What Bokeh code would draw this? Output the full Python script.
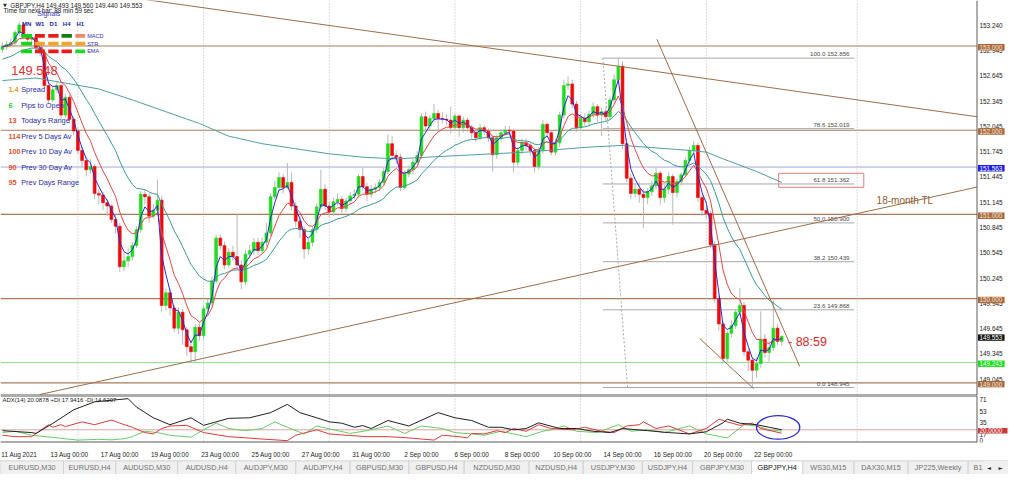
from bokeh.plotting import figure
from bokeh.models import (Range1d, LinearAxis, FixedTicker, Span, ColumnDataSource)
from bokeh.layouts import column
from bokeh.embed import file_html
from bokeh.resources import INLINE
from bokeh.core.properties import value

# ---------------- data (GBPJPY H4) ----------------
first_open = 152.96
closes = [
    152.99, 153.02, 153.04, 153.16, 153.25, 153.12, 153.08, 153.10, 152.98, 152.92,
    152.53, 152.36, 152.48, 152.53, 152.18, 152.39, 152.13, 151.99, 151.76, 151.64,
    151.53, 151.57, 151.25, 151.23, 151.14, 151.10, 150.94, 150.86, 150.38, 150.45,
    150.50, 150.63, 150.82, 151.24, 151.21, 150.98, 151.05, 151.17, 149.92, 150.07,
    149.89, 149.65, 149.84, 149.63, 149.43, 149.37, 149.66, 149.56, 149.88, 149.95,
    150.21, 150.72, 150.63, 150.40, 150.55, 150.50, 150.40, 150.20, 150.53, 150.57,
    150.67, 150.57, 150.67, 150.78, 151.21, 151.32, 151.44, 151.32, 151.38, 151.10,
    150.92, 150.82, 150.59, 150.67, 150.82, 151.09, 151.30, 151.10, 151.03, 151.15,
    151.18, 151.07, 151.16, 151.22, 151.24, 151.45, 151.33, 151.24, 151.30, 151.32,
    151.38, 151.51, 151.84, 151.70, 151.68, 151.32, 151.48, 151.53, 151.62, 151.70,
    152.16, 152.05, 152.14, 152.20, 152.14, 152.13, 152.12, 152.03, 152.17, 152.03,
    152.12, 152.03, 151.97, 151.91, 152.03, 151.99, 151.91, 151.71, 151.91, 151.97,
    152.00, 151.99, 151.62, 151.76, 151.85, 151.82, 151.76, 151.57, 151.76, 152.07,
    151.97, 151.74, 151.85, 152.18, 152.53, 152.55, 152.31, 152.03, 152.14, 152.10,
    152.19, 152.28, 152.18, 152.22, 152.16, 152.36, 152.60, 152.76, 151.84, 151.43,
    151.25, 151.30, 151.24, 151.20, 151.27, 151.34, 151.49, 151.20, 151.30, 151.45,
    151.26, 151.39, 151.47, 151.64, 151.76, 151.82, 151.20, 151.05, 151.01, 150.64,
    150.00, 149.70, 149.29, 149.59, 149.68, 149.84, 149.92, 149.37, 149.27, 149.15,
    149.23, 149.52, 149.36, 149.42, 149.65, 149.493, 149.553]
highs = [
    153.04, 153.06, 153.09, 153.19, 153.29, 153.28, 153.15, 153.14, 153.13, 153.01,
    152.95, 152.56, 152.52, 152.58, 152.56, 152.43, 152.42, 152.16, 152.02, 151.80,
    151.68, 151.66, 151.60, 151.30, 151.27, 151.18, 151.12, 151.00, 150.90, 150.55,
    150.60, 150.68, 150.86, 151.28, 151.30, 151.25, 151.12, 151.41, 151.22, 150.12,
    150.12, 149.93, 149.90, 149.88, 149.66, 149.50, 149.70, 149.72, 149.92, 150.00,
    150.26, 150.76, 150.76, 150.68, 150.60, 150.63, 151.01, 150.45, 150.58, 150.64,
    150.72, 150.72, 150.73, 150.90, 151.25, 151.40, 151.50, 151.48, 151.61, 151.50,
    151.15, 150.98, 150.85, 150.72, 150.86, 151.13, 151.53, 151.36, 151.15, 151.20,
    151.25, 151.22, 151.20, 151.27, 151.30, 151.48, 151.55, 151.38, 151.35, 151.37,
    151.42, 151.55, 151.95, 151.93, 151.76, 151.72, 151.52, 151.58, 151.66, 151.75,
    152.20, 152.22, 152.18, 152.31, 152.24, 152.22, 152.19, 152.28, 152.20, 152.19,
    152.16, 152.15, 152.06, 152.00, 152.08, 152.06, 152.02, 151.94, 151.95, 152.01,
    152.05, 152.05, 152.02, 151.80, 151.90, 151.90, 151.86, 151.79, 151.80, 152.12,
    152.10, 152.00, 151.90, 152.22, 152.60, 152.64, 152.60, 152.35, 152.19, 152.20,
    152.23, 152.33, 152.31, 152.27, 152.27, 152.40, 152.66, 152.856, 152.82, 151.90,
    151.48, 151.36, 151.38, 151.30, 151.31, 151.40, 151.55, 151.52, 151.35, 151.50,
    151.48, 151.43, 151.50, 151.68, 151.80, 151.87, 151.85, 151.24, 151.10, 151.04,
    150.68, 150.04, 149.73, 149.62, 149.74, 149.88, 150.13, 149.96, 149.40, 149.30,
    149.30, 149.85, 149.58, 149.50, 149.98, 149.70, 149.560]
lows = [
    152.92, 152.95, 152.98, 153.00, 153.12, 153.08, 153.03, 153.02, 152.94, 152.88,
    152.49, 152.31, 152.33, 152.44, 152.13, 152.15, 152.08, 151.94, 151.72, 151.56,
    151.45, 151.48, 151.18, 151.12, 151.05, 150.98, 150.90, 150.77, 150.32, 150.33,
    150.38, 150.45, 150.60, 150.78, 151.12, 150.90, 150.95, 151.02, 149.85, 149.86,
    149.80, 149.60, 149.58, 149.45, 149.32, 149.24, 149.25, 149.50, 149.52, 149.82,
    149.92, 150.18, 150.58, 150.35, 150.37, 150.45, 150.36, 150.11, 150.16, 150.48,
    150.52, 150.52, 150.53, 150.62, 150.74, 151.18, 151.28, 151.25, 151.30, 151.05,
    150.85, 150.72, 150.47, 150.52, 150.62, 150.78, 151.05, 151.05, 150.97, 150.98,
    151.10, 151.02, 151.03, 151.12, 151.18, 151.20, 151.28, 151.16, 151.20, 151.25,
    151.28, 151.34, 151.48, 151.65, 151.60, 151.28, 151.30, 151.44, 151.48, 151.58,
    151.66, 151.98, 152.00, 152.10, 151.98, 152.08, 152.06, 151.96, 151.99, 151.92,
    151.97, 151.98, 151.90, 151.86, 151.88, 151.94, 151.86, 151.51, 151.66, 151.86,
    151.93, 151.94, 151.50, 151.57, 151.72, 151.76, 151.70, 151.50, 151.53, 151.72,
    151.92, 151.70, 151.70, 151.80, 152.14, 152.48, 152.26, 151.98, 151.99, 152.05,
    152.06, 152.15, 152.10, 151.93, 152.10, 152.12, 152.32, 152.55, 151.78, 151.38,
    151.18, 151.20, 151.14, 150.84, 151.12, 151.22, 151.30, 151.12, 151.14, 151.24,
    150.88, 151.20, 151.34, 151.44, 151.60, 151.72, 151.15, 150.98, 150.95, 150.60,
    149.95, 149.62, 149.24, 149.25, 149.54, 149.64, 149.80, 149.32, 149.14, 148.945,
    149.06, 149.18, 149.30, 149.25, 149.38, 149.45, 149.440]

ema_fast_period = 3
ema_mid_period = 8
ema_slow_period = 21
ema_slow_seed = 152.83

ma_long_bar = [0, 8, 15, 23, 31, 39, 47, 54, 62, 70, 78, 86, 94, 109, 125, 140,
               148, 156, 164, 168, 172, 180, 186]
ma_long_val = [152.59, 152.62, 152.56, 152.49, 152.36, 152.22, 152.08, 151.93,
               151.84, 151.78, 151.72, 151.68, 151.66, 151.70, 151.74, 151.80,
               151.82, 151.79, 151.76, 151.74, 151.66, 151.51, 151.38]

adx_bar = [0, 7, 8, 12, 17, 22, 30, 32, 36, 40, 45, 48, 54, 59, 64, 68, 71, 75, 78, 81,
           84, 86, 88, 92, 97, 104, 108, 112, 116, 119, 122, 125, 128, 133, 137, 141,
           145, 148, 154, 159, 164, 168, 172, 173, 176, 180, 183, 186]
adx_val = [18.6, 15.6, 14.3, 30.0, 51.5, 64.0, 69.0, 55.7, 38.9, 28.0, 38.9, 27.0,
           38.0, 38.9, 47.0, 60.0, 47.0, 38.9, 32.5, 30.4, 24.0, 26.6, 22.0, 34.6,
           26.0, 47.0, 38.9, 34.6, 24.0, 24.0, 20.0, 22.0, 31.0, 22.0, 22.0, 17.7,
           15.6, 22.0, 18.6, 15.6, 13.5, 16.9, 31.0, 36.7, 30.4, 28.0, 24.0, 20.09]
pdi_bar = [0, 3, 7, 15, 18, 23, 26, 29, 31, 34, 37, 40, 45, 48, 51, 54, 58, 62, 65, 68,
           72, 75, 79, 83, 87, 92, 96, 100, 105, 108, 112, 115, 119, 122, 125, 129,
           131, 134, 137, 142, 147, 150, 154, 158, 164, 168, 173, 177, 180, 183, 186]
pdi_val = [15.6, 17.7, 11.4, 5.9, 3.8, 5.0, 4.2, 5.9, 9.2, 17.7, 15.6, 11.4, 8.4, 20.0,
           30.4, 22.0, 18.6, 22.0, 32.5, 24.0, 13.5, 26.0, 20.0, 14.3, 18.6, 26.0,
           14.3, 26.0, 22.0, 15.6, 13.5, 11.4, 17.7, 13.5, 9.2, 17.7, 20.0, 26.0,
           17.7, 15.6, 28.0, 17.7, 20.0, 15.6, 26.0, 13.5, 7.2, 28.0, 26.0, 20.0, 17.94]
mdi_bar = [0, 3, 7, 11, 12, 14, 15, 19, 22, 26, 28, 31, 34, 36, 38, 40, 44, 48, 54, 61,
           68, 70, 75, 78, 82, 87, 92, 97, 103, 105, 109, 111, 112, 115, 118, 120, 122,
           125, 128, 131, 136, 139, 143, 146, 149, 152, 153, 156, 159, 164, 168, 171,
           173, 176, 179, 181, 186]
mdi_val = [11.4, 9.2, 9.2, 28.0, 24.0, 28.0, 25.0, 32.5, 28.0, 35.4, 30.4, 24.0, 15.6,
           13.5, 22.0, 26.0, 27.0, 15.6, 9.2, 5.9, 2.9, 11.4, 20.0, 13.5, 11.4, 9.2,
           9.2, 7.2, 3.8, 11.4, 9.2, 7.2, 14.3, 13.5, 18.6, 15.6, 22.0, 17.7, 28.0,
           22.0, 20.0, 24.0, 17.7, 15.6, 26.0, 28.0, 32.5, 22.0, 26.0, 13.5, 22.0,
           36.7, 32.5, 27.0, 30.4, 22.0, 14.62]
adx_level = 20.0
adx_ticks = [71, 53, 35, 17, 0]
adx_title = "ADX(14) 20.0878 +DI:17.9416 -DI:14.6207"

date_ticks = [0, 12, 24, 36, 48, 60, 72, 84, 96, 108, 120, 132, 144, 156, 168, 180]
date_labels = ["11 Aug 2021", "13 Aug 00:00", "17 Aug 00:00", "19 Aug 00:00",
               "23 Aug 00:00", "25 Aug 00:00", "27 Aug 00:00", "31 Aug 00:00",
               "2 Sep 00:00", "6 Sep 00:00", "8 Sep 00:00", "10 Sep 00:00",
               "14 Sep 00:00", "16 Sep 00:00", "20 Sep 00:00", "22 Sep 00:00"]

price_ticks = [153.240, 152.945, 152.645, 152.345, 152.045, 151.745, 151.445,
               151.145, 150.845, 150.545, 150.245, 149.945, 149.645, 149.345, 149.045]
round_levels = [153.0, 152.0, 151.0, 150.0, 149.0]
alert_blue = 151.563
alert_green = 149.243
last_price = 149.553

fib_pct = [100.0, 78.6, 61.8, 50.0, 38.2, 23.6, 0.0]
fib_price = [152.856, 152.019, 151.362, 150.900, 150.439, 149.868, 148.945]
fib_start_bar = 143.3
fib_end_bar = 203.3
fib_diag_bar = [143.3, 149.2]
fib_diag_price = [152.856, 148.945]

tl_bar0 = [30.0, 8.9, 156.2, 166.4]
tl_price0 = [153.58, 148.862, 153.08, 149.529]
tl_bar1 = [232.6, 232.6, 190.3, 179.3]
tl_price1 = [152.16, 151.325, 149.195, 148.931]

grid_bars = [18, 48, 78, 108, 138, 168, 204]

header = "GBPJPY,H4  149.493 149.560 149.440 149.553"
timer_text = "Time for next bar: 88 min 59 sec"
bid_text = "149.548"
info_values = ["1.4", "6", "13", "114", "100", "90", "95"]
info_names = ["Spread", "Pips to Open", "Today's Range", "Prev 5 Days Av",
              "Prev 10 Day Av", "Prev 30 Day Av", "Prev Days Range"]
info_colors = ["#e39a2a", "#2ccc2c", "#e2542c", "#e2542c", "#e2542c", "#e2542c", "#e2542c"]
signal_tfs = ["MN", "W1", "D1", "H4", "H1"]
signal_rows = ["MACD", "STR", "EMA"]
signal_colors = [["#18d418", "#e81c1c", "#e81c1c", "#147a14", "#f2866e"],
                 ["#18d418", "#f0a428", "#f0a428", "#f0a428", "#f0a428"],
                 ["#18d418", "#e81c1c", "#e81c1c", "#e81c1c", "#26d826"]]
tl_caption = "18-month TL"
countdown = "- 88:59"

tab_names = ["EURUSD,M30", "EURUSD,H4", "AUDUSD,M30", "AUDUSD,H4", "AUDJPY,M30",
             "AUDJPY,H4", "GBPUSD,M30", "GBPUSD,H4", "NZDUSD,M30", "NZDUSD,H4",
             "USDJPY,M30", "USDJPY,H4", "GBPJPY,M30", "GBPJPY,H4", "WS30,M15",
             "DAX30,M15", "JP225,Weekly", "B1"]
active_tab = "GBPJPY,H4"

# ---------------- layout helpers (reference-pixel -> data) ----------------
PX_PER_BAR = 4.256
def X(px):
    return (px - 2.0) / PX_PER_BAR
def P(py):
    return 153.0 - (py - 47.0) / 87.0
ADX_PX = 0.757
def A(py):
    return (464.0 - py) / ADX_PX

W = 1008
FONT = "Liberation Sans"
BULL, BEAR = "#1fdc1f", "#ee0a0a"
BROWN = "#a87a58"
BORDER = "#5a5a5a"

def ema(vals, period, seed):
    k = 2.0 / (period + 1)
    out, e = [], seed
    for v in vals:
        e = e + k * (v - e)
        out.append(e)
    return out

n = len(closes)
idx = list(range(n))
opens = [first_open] + closes[:-1]

def base_fig(height, y_range, bottom=0):
    f = figure(width=W, height=height, x_range=Range1d(X(0), X(1024)), y_range=y_range,
               output_backend="svg", toolbar_location=None, x_axis_location=None,
               y_axis_location=None, min_border_left=0, min_border_right=0,
               min_border_top=0, min_border_bottom=bottom)
    f.outline_line_color = None
    f.background_fill_color = "white"
    f.border_fill_color = "white"
    f.xgrid.visible = False
    f.ygrid.visible = False
    return f

# ---------------- main price panel ----------------
p = base_fig(395, Range1d(P(408), P(0)))

for b in grid_bars:
    p.add_layout(Span(location=b, dimension="height", line_color="#b4b4b4",
                      line_dash="1 2", line_width=1, level="underlay"))
p.segment(x0=[X(0)] * 5, y0=round_levels, x1=[X(992)] * 5, y1=round_levels,
          line_color=BROWN, line_width=1.2, level="underlay")
p.segment(x0=[X(0)], y0=[alert_blue], x1=[X(992)], y1=[alert_blue],
          line_color="#a4aad6", line_width=1, level="underlay")
p.segment(x0=[X(0)], y0=[alert_green], x1=[X(992)], y1=[alert_green],
          line_color="#8ce28c", line_width=1, level="underlay")

# fibonacci
p.segment(x0=[fib_start_bar] * len(fib_price), y0=fib_price,
          x1=[fib_end_bar] * len(fib_price), y1=fib_price,
          line_color="#a8a8a8", line_width=1)
p.line(fib_diag_bar, fib_diag_price, line_color="#a8a8a8", line_dash="2 2", line_width=1)
p.text(x=[X(866)] * len(fib_price), y=[f + 0.9 / 87 for f in fib_price],
       text=[f"{a:.1f}   {b:.3f}" for a, b in zip(fib_pct, fib_price)],
       text_font=value(FONT), text_font_size="6.2px", text_color="#4a4a4a",
       text_align="right", text_baseline="bottom")
p.quad(left=[X(790.5)], right=[X(877)], top=[P(178.5)], bottom=[P(193)],
       fill_color=None, line_color="#e57b7b", line_width=1)

# candles
src = ColumnDataSource(dict(
    x=idx, high=highs, low=lows,
    top=[max(o, c) for o, c in zip(opens, closes)],
    bottom=[min(o, c) for o, c in zip(opens, closes)],
    color=[BULL if c >= o else BEAR for o, c in zip(opens, closes)]))
p.segment(x0="x", y0="high", x1="x", y1="low", source=src,
          line_color="#b9b9b9", line_width=1)
p.vbar(x="x", width=0.68, top="top", bottom="bottom", source=src,
       fill_color="color", line_color="color", line_width=0.6)

# moving averages
p.line(ma_long_bar, ma_long_val, line_color="#4f9ea6", line_width=1)
p.line(idx, ema(closes, ema_slow_period, ema_slow_seed), line_color="#3a9999", line_width=1)
p.line(idx, ema(closes, ema_mid_period, closes[0]), line_color="#e04848", line_width=1)
p.line(idx, ema(closes, ema_fast_period, closes[0]), line_color="#2a2ad2", line_width=1)

# trendlines
p.segment(x0=tl_bar0, y0=tl_price0, x1=tl_bar1, y1=tl_price1,
          line_color="#9e6c4a", line_width=1)

# right price scale (separator, labels, marked-price boxes)
p.add_layout(Span(location=X(992), dimension="height", line_color=BORDER, line_width=1))
p.segment(x0=[X(0)], y0=[P(408)], x1=[X(992)], y1=[P(408)], line_color=BORDER, line_width=2)
p.text(x=[X(994.5)] * len(price_ticks), y=price_ticks,
       text=[f"{v:.3f}" for v in price_ticks], text_font=value(FONT),
       text_font_size="6.4px", text_color="#202020", text_baseline="middle")
boxes = [(153.0, "#a8683c", "#fbe9d8"), (152.0, "#a8683c", "#fbe9d8"),
         (151.0, "#a8683c", "#fbe9d8"), (150.0, "#a8683c", "#fbe9d8"),
         (149.0, "#a8683c", "#fbe9d8"), (alert_blue, "#1c1ce6", "white"),
         (last_price, "#111111", "white"), (alert_green, "#12e012", "white")]
bp = [b[0] for b in boxes]
p.quad(left=[X(993)] * len(bp), right=[X(1020)] * len(bp),
       top=[v + 2.0 / 87 for v in bp], bottom=[v - 4.6 / 87 for v in bp],
       fill_color=[b[1] for b in boxes], line_color=None)
p.text(x=[X(994.5)] * len(bp), y=[v - 1.3 / 87 for v in bp],
       text=[f"{v:.3f}" for v in bp], text_font=value(FONT), text_font_size="6.3px",
       text_color=[b[2] for b in boxes], text_baseline="middle")

# info panel (top-left)
p.text(x=[X(2.5)], y=[P(5)], text=["\u25bc"], text_font=value("DejaVu Sans"),
       text_font_size="5px", text_color="#303030", text_baseline="middle")
p.text(x=[X(10)], y=[P(5)], text=[header], text_font=value(FONT),
       text_font_size="6.3px", text_color="#202020", text_baseline="middle")
p.text(x=[X(3)], y=[P(10)], text=[timer_text], text_font=value(FONT),
       text_font_size="6.3px", text_color="#202020", text_baseline="middle")
p.text(x=[X(49)], y=[P(13.5)], text=["Signals"], text_font=value(FONT),
       text_font_size="7px", text_color="#3838b0", text_align="center",
       text_baseline="middle")
col_span = [(21, 32), (35, 45), (48.5, 59), (62, 72.5), (76, 86)]
row_span = [(34.5, 38.5), (42.5, 46.5), (50.5, 54.5)]
p.text(x=[X((a + b) / 2) for a, b in col_span], y=[P(24.5)] * 5, text=signal_tfs,
       text_font=value(FONT), text_font_size="6px", text_font_style="bold",
       text_color="#1e1e9e", text_align="center", text_baseline="middle")
ql, qr, qt, qb, qc = [], [], [], [], []
for r, (y0, y1) in enumerate(row_span):
    for c, (x0, x1) in enumerate(col_span):
        ql.append(X(x0)); qr.append(X(x1)); qt.append(P(y0)); qb.append(P(y1))
        qc.append(signal_colors[r][c])
p.quad(left=ql, right=qr, top=qt, bottom=qb, fill_color=qc, line_color=None)
p.text(x=[X(88)] * 3, y=[P((a + b) / 2) for a, b in row_span], text=signal_rows,
       text_font=value(FONT), text_font_size="5.6px", text_color="#3434b4",
       text_baseline="middle")
p.text(x=[X(11)], y=[P(72)], text=[bid_text], text_font=value(FONT),
       text_font_size="12.8px", text_color="#e23030", text_baseline="middle")
info_y = [92, 108, 124, 140, 156, 172, 188]
p.text(x=[X(8)] * 7, y=[P(v) for v in info_y], text=info_values,
       text_font=value(FONT), text_font_size="7.4px", text_font_style="bold",
       text_color=info_colors, text_baseline="middle")
p.text(x=[X(21)] * 7, y=[P(v) for v in info_y], text=info_names,
       text_font=value(FONT), text_font_size="7.4px", text_color="#2a2aa6",
       text_baseline="middle")

p.text(x=[X(890)], y=[P(207)], text=[tl_caption], text_font=value(FONT),
       text_font_size="10px", text_color="#8e5b32", text_baseline="middle")
p.text(x=[X(800)], y=[P(353)], text=[countdown], text_font=value(FONT),
       text_font_size="12.5px", text_color="#e02828", text_baseline="middle")

# ---------------- ADX panel ----------------
q = base_fig(65, Range1d(0, 56 / ADX_PX), bottom=11)
q.x_range = p.x_range
for b in grid_bars:
    q.add_layout(Span(location=b, dimension="height", line_color="#b4b4b4",
                      line_dash="1 2", line_width=1, level="underlay"))
q.segment(x0=[X(0)], y0=[adx_level], x1=[X(992)], y1=[adx_level],
          line_color="#e2a4a4", line_width=1, level="underlay")
q.line(pdi_bar, pdi_val, line_color="#66cc66", line_width=1)
q.line(mdi_bar, mdi_val, line_color="#e03a3a", line_width=1)
q.line(adx_bar, adx_val, line_color="#202020", line_width=1)
q.ellipse(x=[X(790)], y=[A(446)], width=44 / PX_PER_BAR, height=28 / ADX_PX,
          fill_color=None, line_color="#2a2ad6", line_width=1.3)
q.text(x=[X(2)], y=[A(413)], text=[adx_title], text_font=value(FONT),
       text_font_size="6px", text_color="#202020", text_baseline="middle")

q.add_layout(Span(location=X(992), dimension="height", line_color=BORDER, line_width=1))
q.segment(x0=[X(0)], y0=[56 / ADX_PX], x1=[X(992)], y1=[56 / ADX_PX],
          line_color=BORDER, line_width=2)
q.segment(x0=[X(0)], y0=[0], x1=[X(992)], y1=[0], line_color=BORDER, line_width=2)
q.text(x=[X(994.5)] * 4, y=adx_ticks[:4], text=[str(v) for v in adx_ticks[:4]],
       text_font=value(FONT), text_font_size="6.4px", text_color="#202020",
       text_baseline="top")
q.text(x=[X(994.5)], y=[adx_ticks[4]], text=[str(adx_ticks[4])],
       text_font=value(FONT), text_font_size="6.4px", text_color="#202020",
       text_baseline="bottom")
q.quad(left=[X(993)], right=[X(1023)], top=[adx_level + 2.2 / ADX_PX],
       bottom=[adx_level - 4.4 / ADX_PX], fill_color="#c83a3a", line_color=None)
q.text(x=[X(994.5)], y=[adx_level - 1.1 / ADX_PX], text=[f"{adx_level:.4f}"],
       text_font=value(FONT), text_font_size="6.3px", text_color="white",
       text_baseline="middle")

label_shift = 4
qx = LinearAxis(ticker=FixedTicker(ticks=[t + label_shift for t in date_ticks]),
                major_label_overrides={t + label_shift: s for t, s in zip(date_ticks, date_labels)})
qx.major_label_text_font = FONT
qx.major_label_text_font_size = "6.4px"
qx.major_label_text_color = "#202020"
qx.major_label_standoff = 2
qx.major_tick_line_color = None
qx.minor_tick_line_color = None
qx.axis_line_color = None
q.add_layout(qx, "below")

# ---------------- symbol tabs ----------------
tab_edges = [0, 64, 117, 180, 239, 300, 355, 415, 471, 537, 592, 652, 703, 763,
             815, 867, 922, 983, 1024]
t = figure(width=W, height=14, x_range=Range1d(0, 1024), y_range=Range1d(0, 1),
           output_backend="svg", toolbar_location=None, x_axis_location=None,
           y_axis_location=None, min_border=0)
t.outline_line_color = None
t.border_fill_color = "#f0f0f0"
t.background_fill_color = "#f0f0f0"
t.xgrid.visible = False
t.ygrid.visible = False
t.segment(x0=[0], y0=[0.97], x1=[1024], y1=[0.97], line_color="#c4c4c4", line_width=1)
fills = ["white" if nm == active_tab else "#f0f0f0" for nm in tab_names]
t.quad(left=tab_edges[:-1], right=tab_edges[1:], top=[0.97] * len(tab_names),
       bottom=[0.0] * len(tab_names), fill_color=fills, line_color="#d2d2d2", line_width=1)
centers = [(a + b) / 2 for a, b in zip(tab_edges[:-1], tab_edges[1:])]
centers[-1] = 993
t.text(x=centers, y=[0.48] * len(tab_names), text=tab_names, text_font=value(FONT),
       text_font_size="7.3px",
       text_color=["#111111" if nm == active_tab else "#707070" for nm in tab_names],
       text_align="center", text_baseline="middle")
t.quad(left=[999], right=[1024], top=[0.97], bottom=[0], fill_color="#f0f0f0", line_color=None)
t.text(x=[1004, 1016], y=[0.5, 0.5], text=["\u25c4", "\u25ba"], text_font=value("DejaVu Sans"),
       text_font_size="5.5px", text_color="#202020", text_align="center", text_baseline="middle")

layout = column(p, q, t, spacing=0)
open("out.html", "w").write(file_html(layout, INLINE))
